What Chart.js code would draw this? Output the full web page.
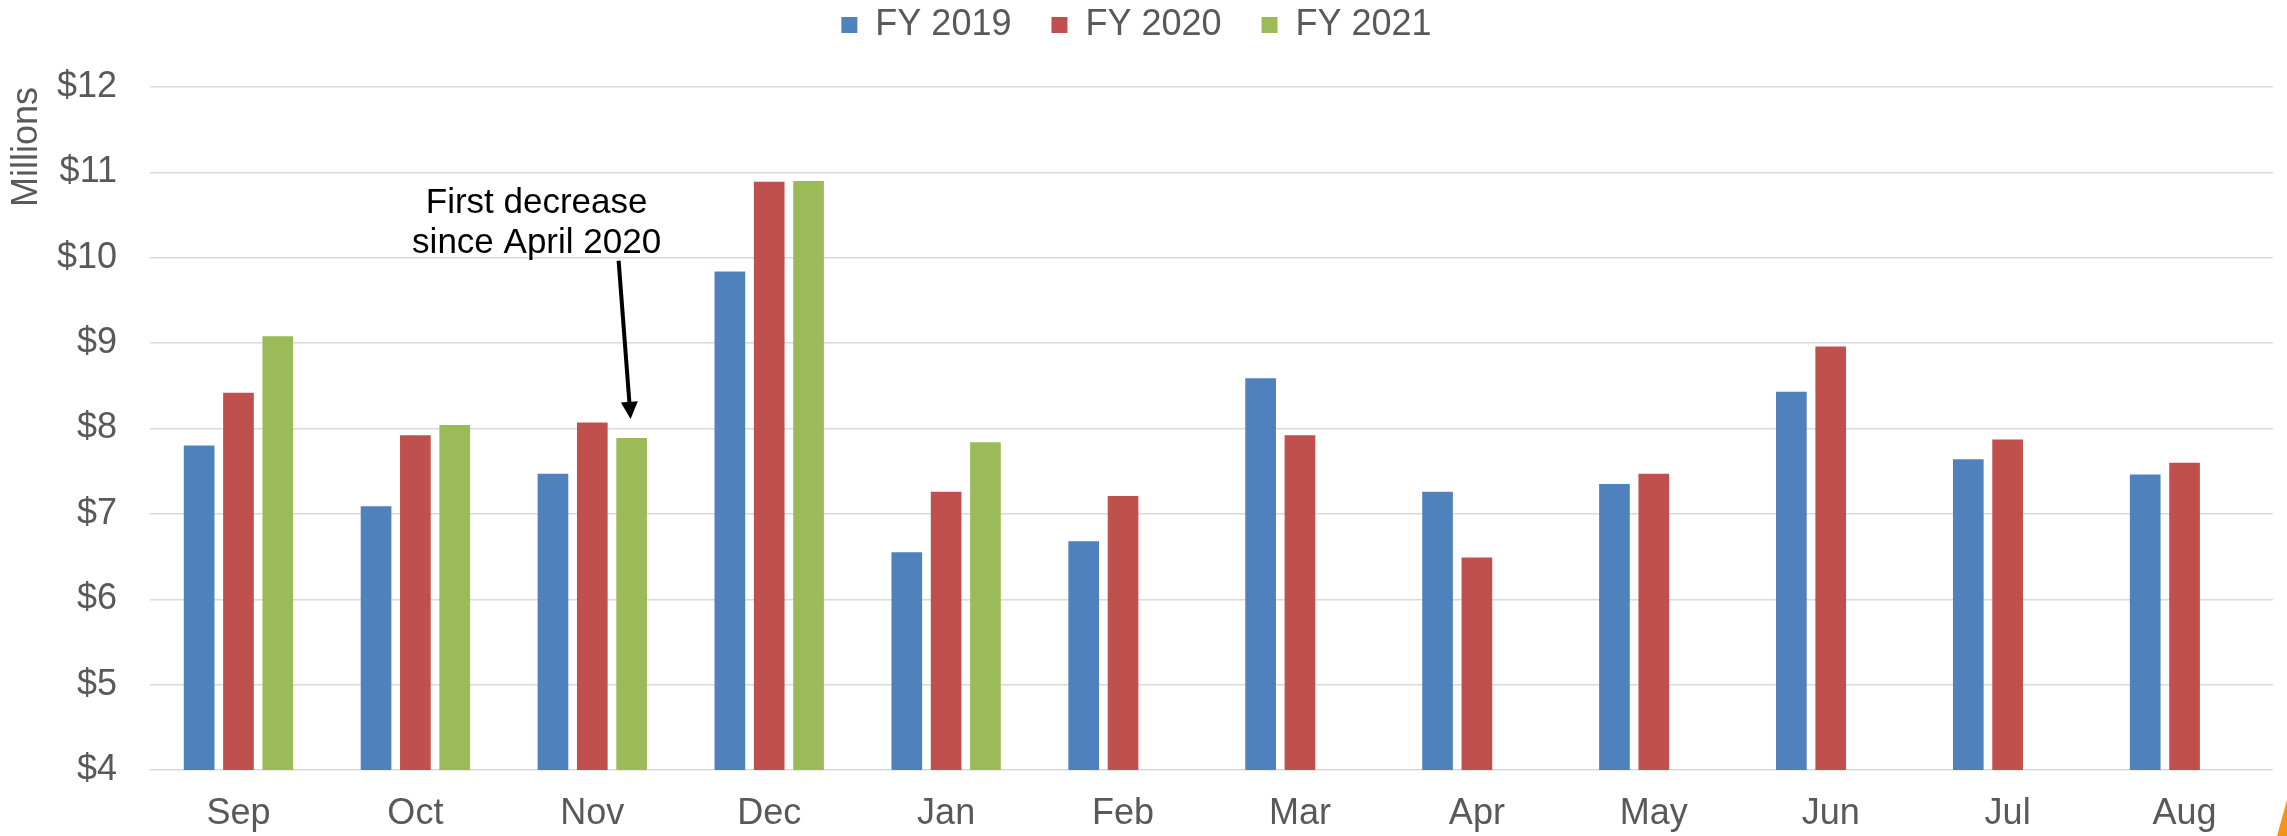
<!DOCTYPE html>
<html>
<head>
<meta charset="utf-8">
<script src="https://cdn.jsdelivr.net/npm/chart.js@4.4.1/dist/chart.umd.min.js"></script>
<style>
    html, body { margin: 0; padding: 0; background: #fff; }
    #wrap { width: 2287px; height: 836px; }
</style>
</head>
<body>
<div id="wrap"><canvas id="myChart"></canvas></div>
<script>
// data
const months = ['Sep', 'Oct', 'Nov', 'Dec', 'Jan', 'Feb', 'Mar', 'Apr', 'May', 'Jun', 'Jul', 'Aug'];
const fy2019 = [7.80, 7.09, 7.47, 9.84, 6.55, 6.68, 8.59, 7.26, 7.35, 8.43, 7.64, 7.46];
const fy2020 = [8.42, 7.92, 8.07, 10.89, 7.26, 7.21, 7.92, 6.49, 7.47, 8.96, 7.87, 7.60];
const fy2021 = [9.08, 8.04, 7.89, 10.90, 7.84, null, null, null, null, null, null, null];
const yMin = 4, yMax = 12, yStep = 1;
const noteLines = ['First decrease', 'since April 2020'];

const FONT = '"Liberation Sans", Arial, sans-serif';
const GREY = '#595959';

// make room under the legend
const legendSpace = {
    id: 'legendSpace',
    beforeInit(chart) {
        const fit = chart.legend.fit;
        chart.legend.fit = function () {
            fit.bind(chart.legend)();
            this.height += 34;
        };
    }
};

// callout + arrow pointing at Nov FY 2021
const callout = {
    id: 'callout',
    afterDatasetsDraw(chart) {
        const ctx = chart.ctx;
        const y = chart.scales.y;
        const bar = chart.getDatasetMeta(2).data[2];
        const tipX = bar.x - 1, tipY = bar.y - 19;
        const startX = bar.x - 13, startY = y.getPixelForValue(10) + 3;
        ctx.save();
        ctx.fillStyle = '#000';
        ctx.font = '35px ' + FONT;
        ctx.textAlign = 'center';
        ctx.textBaseline = 'alphabetic';
        ctx.fillText(noteLines[0], bar.x - 95, y.getPixelForValue(10.52));
        ctx.fillText(noteLines[1], bar.x - 95, y.getPixelForValue(10.05));
        // shaft
        const ang = Math.atan2(tipY - startY, tipX - startX);
        ctx.strokeStyle = '#000';
        ctx.lineWidth = 4;
        ctx.beginPath();
        ctx.moveTo(startX, startY);
        ctx.lineTo(tipX - Math.cos(ang) * 12, tipY - Math.sin(ang) * 12);
        ctx.stroke();
        // head
        ctx.beginPath();
        ctx.moveTo(tipX, tipY);
        ctx.lineTo(tipX - Math.cos(ang) * 17 + Math.sin(ang) * 8.5, tipY - Math.sin(ang) * 17 - Math.cos(ang) * 8.5);
        ctx.lineTo(tipX - Math.cos(ang) * 17 - Math.sin(ang) * 8.5, tipY - Math.sin(ang) * 17 + Math.cos(ang) * 8.5);
        ctx.closePath();
        ctx.fill();
        ctx.restore();
    },
    afterDraw(chart) {
        // little orange corner from the slide
        const ctx = chart.ctx, w = chart.width, h = chart.height;
        ctx.save();
        ctx.fillStyle = '#F39419';
        ctx.beginPath();
        ctx.moveTo(w - 10, h);
        ctx.lineTo(w, h - 36);
        ctx.lineTo(w, h);
        ctx.closePath();
        ctx.fill();
        ctx.restore();
    }
};

const ctx = document.getElementById('myChart');

new Chart(ctx, {
    type: 'bar',
    data: {
        labels: months,
        datasets: [
            { label: 'FY 2019', data: fy2019, backgroundColor: '#4F81BD' },
            { label: 'FY 2020', data: fy2020, backgroundColor: '#C0504D' },
            { label: 'FY 2021', data: fy2021, backgroundColor: '#9BBB59' }
        ]
    },
    options: {
        responsive: true,
        maintainAspectRatio: false,
        animation: false,
        categoryPercentage: 0.667,
        barPercentage: 0.78,
        layout: { padding: { top: -33, right: 14, bottom: 0, left: 0 } },
        plugins: {
            tooltip: { enabled: false },
            legend: {
                position: 'top',
                labels: {
                    boxWidth: 16,
                    boxHeight: 16,
                    padding: 40,
                    color: GREY,
                    font: { family: FONT, size: 36 }
                }
            }
        },
        scales: {
            x: {
                grid: { display: false, drawTicks: false },
                border: { display: false },
                ticks: { color: GREY, padding: 22, font: { family: FONT, size: 36 } },
                afterFit: (scale) => { scale.height = 66; }
            },
            y: {
                min: yMin,
                max: yMax,
                grid: { color: '#d9d9d9', lineWidth: 1.5, drawTicks: false },
                border: { display: false },
                ticks: {
                    stepSize: yStep,
                    color: GREY,
                    padding: 33,
                    font: { family: FONT, size: 36 },
                    callback: (v) => '$' + v
                },
                title: {
                    display: true,
                    text: 'Millions',
                    align: 'end',
                    color: GREY,
                    padding: { top: 5, bottom: 0 },
                    font: { family: FONT, size: 36 }
                },
                afterFit: (scale) => { scale.width = 150; }
            }
        }
    },
    plugins: [legendSpace, callout]
});
</script>
</body>
</html>
